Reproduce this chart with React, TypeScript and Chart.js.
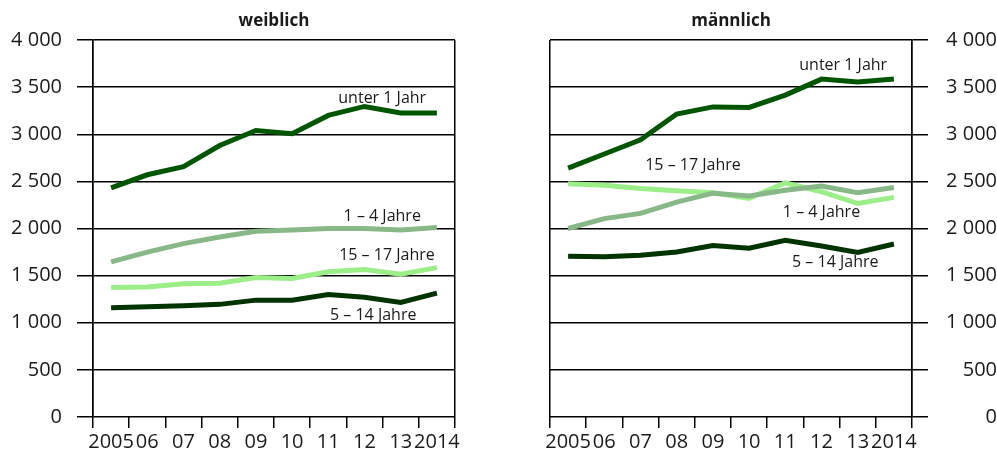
import React, { useEffect, useRef } from 'react';
import { Chart, registerables } from 'chart.js';

Chart.register(...registerables);

// ---- data ----
const years = ['2005', '06', '07', '08', '09', '10', '11', '12', '13', '2014'];
const seriesNames = ['unter 1 Jahr', '1 – 4 Jahre', '15 – 17 Jahre', '5 – 14 Jahre'];

const femaleUnder1 = [2430, 2570, 2655, 2880, 3040, 3005, 3200, 3295, 3225, 3225];
const female1to4 = [1645, 1750, 1840, 1910, 1970, 1985, 2000, 2000, 1985, 2010];
const female15to17 = [1375, 1380, 1415, 1420, 1480, 1470, 1540, 1565, 1515, 1585];
const female5to14 = [1160, 1170, 1180, 1195, 1240, 1240, 1300, 1270, 1215, 1315];

const maleUnder1 = [2640, 2790, 2940, 3215, 3290, 3285, 3415, 3585, 3555, 3585];
const male1to4 = [2000, 2105, 2160, 2280, 2375, 2345, 2405, 2450, 2380, 2435];
const male15to17 = [2475, 2460, 2425, 2400, 2380, 2320, 2485, 2390, 2265, 2330];
const male5to14 = [1705, 1700, 1715, 1750, 1820, 1790, 1875, 1815, 1745, 1835];

const yMin = 0;
const yMax = 4000;
const yStep = 500;

// ---- styles ----
const lineColors = ['#005500', '#88b888', '#9cee88', '#003300'];
const FONT = '"Open Sans", "Noto Sans", sans-serif';
const TEXT = '#1a1a1a';

// label anchors (category index, value) – positions only
const femaleLabelPos = [
  { x: 7.49, y: 3384 },
  { x: 7.49, y: 2131 },
  { x: 7.62, y: 1717 },
  { x: 7.24, y: 1080 },
];
const maleLabelPos = [
  { x: 7.6, y: 3733 },
  { x: 7.0, y: 2173 },
  { x: 3.45, y: 2673 },
  { x: 7.38, y: 1643 },
];

const fmt = (v: number) => {
  const s = String(v);
  return s.length > 3 ? s.slice(0, s.length - 3) + ' ' + s.slice(-3) : s;
};

function makeLabelPlugin(title: string, pos: { x: number; y: number }[]) {
  return {
    id: 'panelLabels',
    afterDatasetsDraw(chart: any) {
      const { ctx, chartArea, scales } = chart;
      const x = scales.x;
      const y = scales.y;
      ctx.save();
      ctx.fillStyle = TEXT;
      ctx.textAlign = 'center';
      ctx.textBaseline = 'middle';
      ctx.font = `bold 17px ${FONT}`;
      ctx.fillText(title, (chartArea.left + chartArea.right) / 2, 21.5);
      ctx.font = `16px ${FONT}`;
      seriesNames.forEach((name, i) => {
        const p = pos[i];
        ctx.fillText(name, x.getPixelForValue(p.x), y.getPixelForValue(p.y));
      });
      ctx.restore();
    },
  };
}

function buildConfig(
  title: string,
  values: number[][],
  labelPos: { x: number; y: number }[],
  side: 'left' | 'right'
): any {
  const edgeColor = (c: any) => (c.type !== 'tick' || c.index === 0 ? '#000' : 'rgba(0,0,0,0)');
  return {
    type: 'line',
    data: {
      labels: years,
      datasets: values.map((d, i) => ({
        label: seriesNames[i],
        data: d,
        borderColor: lineColors[i],
        backgroundColor: lineColors[i],
        borderWidth: 5,
        pointRadius: 0,
        pointHoverRadius: 0,
        tension: 0,
        fill: false,
        borderJoinStyle: 'miter',
        borderCapStyle: 'butt',
      })),
    },
    options: {
      responsive: false,
      animation: false,
      events: [],
      layout: {
        padding: side === 'left'
          ? { top: 40, right: 25, left: 0, bottom: 0 }
          : { top: 40, right: 0, left: 70, bottom: 0 },
      },
      plugins: {
        legend: { display: false },
        tooltip: { enabled: false },
        title: { display: false },
      },
      scales: {
        x: {
          type: 'category',
          offset: true,
          grid: {
            offset: true,
            drawOnChartArea: true,
            color: edgeColor,
            tickColor: '#000',
            tickLength: 11,
            lineWidth: 1.5,
          },
          border: { display: false },
          ticks: {
            autoSkip: false,
            maxRotation: 0,
            minRotation: 0,
            padding: 2,
            color: TEXT,
            font: { family: FONT, size: 20 },
          },
          afterFit: (s: any) => {
            s.height = 35;
          },
        },
        y: {
          position: side,
          min: yMin,
          max: yMax,
          ticks: {
            stepSize: yStep,
            padding: side === 'left' ? 15 : 14,
            crossAlign: side === 'left' ? 'near' : 'far',
            color: TEXT,
            font: { family: FONT, size: 20 },
            callback: (v: any) => fmt(Number(v)),
          },
          grid: { color: '#000', lineWidth: 1.5, tickLength: 16 },
          border: { display: true, color: '#000', width: 1.5 },
          afterFit: (s: any) => {
            s.width = side === 'left' ? 93 : 85;
          },
        },
      },
    },
    plugins: [makeLabelPlugin(title, labelPos)],
  };
}

function Panel(props: {
  title: string;
  values: number[][];
  labelPos: { x: number; y: number }[];
  side: 'left' | 'right';
  left: number;
  width: number;
}) {
  const ref = useRef<HTMLCanvasElement | null>(null);
  useEffect(() => {
    if (!ref.current) return;
    const chart = new Chart(ref.current, buildConfig(props.title, props.values, props.labelPos, props.side));
    return () => chart.destroy();
  }, []);
  return (
    <canvas
      ref={ref}
      width={props.width}
      height={452}
      style={{ position: 'absolute', left: props.left, top: 0, width: props.width, height: 452 }}
    />
  );
}

export default function App() {
  return (
    <div style={{ position: 'absolute', left: 0, top: 0, width: 997, height: 452, background: '#fff' }}>
      <Panel
        title="weiblich"
        values={[femaleUnder1, female1to4, female15to17, female5to14]}
        labelPos={femaleLabelPos}
        side="left"
        left={0}
        width={480}
      />
      <Panel
        title="männlich"
        values={[maleUnder1, male1to4, male15to17, male5to14]}
        labelPos={maleLabelPos}
        side="right"
        left={480}
        width={517}
      />
    </div>
  );
}
